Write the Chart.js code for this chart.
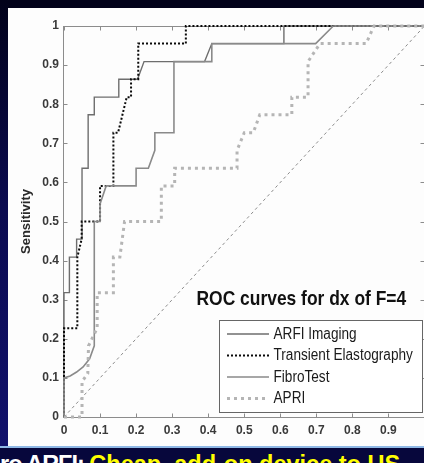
<!DOCTYPE html>
<html><head><meta charset="utf-8">
<script src="https://cdn.jsdelivr.net/npm/chart.js@4.4.1/dist/chart.umd.min.js"></script>
<style>
html,body{margin:0;padding:0;width:424px;height:463px;overflow:hidden;background:#02021a;}
#leftbar{position:absolute;left:0;top:0;width:8px;height:463px;background:linear-gradient(#02021a,#0b0b50 45%,#12126e);}
#white{position:absolute;left:8px;top:8px;width:416px;height:438px;background:#fdfdfd;}
#wrap{position:absolute;left:0;top:0;width:440px;height:446px;}
#banner{position:absolute;left:0;top:446px;width:424px;height:15px;background:#07073c;border-top:2px solid #8fb8e6;overflow:hidden;white-space:nowrap;font-family:"Liberation Sans",Arial,sans-serif;font-weight:bold;font-size:23.5px;line-height:24px;}
#banner span.w{color:#ffffff;letter-spacing:-1px;}
#banner span.y{color:#ffff00;}
#btxt{position:relative;top:4px;left:0px;}
</style></head>
<body>
<div id="leftbar"></div>
<div id="white"></div>
<div id="wrap"><canvas id="c" width="440" height="446"></canvas></div>
<div id="banner"><div id="btxt"><span class="w">ro ARFI: </span><span class="y">Cheap, add-on device to US</span></div></div>
<script>
// ---- data (1 - specificity, sensitivity) ----
const arfiFpr = [0, 0, 0.015, 0.015, 0.035, 0.035, 0.05, 0.05, 0.067, 0.067, 0.084, 0.084, 0.152, 0.152, 0.204, 0.222, 0.39, 0.41, 0.61, 0.61, 1];
const arfiTpr = [0, 0.318, 0.318, 0.409, 0.409, 0.455, 0.455, 0.636, 0.636, 0.773, 0.773, 0.818, 0.818, 0.864, 0.864, 0.909, 0.909, 0.955, 0.955, 1, 1];

const teFpr = [0, 0, 0.037, 0.037, 0.049, 0.049, 0.1, 0.1, 0.137, 0.137, 0.15, 0.174, 0.186, 0.186, 0.206, 0.206, 0.338, 0.338, 1];
const teTpr = [0, 0.227, 0.227, 0.409, 0.455, 0.5, 0.5, 0.591, 0.591, 0.727, 0.727, 0.818, 0.818, 0.864, 0.864, 0.955, 0.955, 1, 1];

const fibroFpr = [0, 0, 0.017, 0.035, 0.053, 0.071, 0.084, 0.084, 0.1, 0.1, 0.117, 0.2, 0.2, 0.234, 0.252, 0.252, 0.305, 0.305, 0.41, 0.41, 0.698, 0.747, 1];
const fibroTpr = [0, 0.1, 0.105, 0.115, 0.128, 0.149, 0.182, 0.5, 0.5, 0.545, 0.591, 0.591, 0.636, 0.636, 0.682, 0.727, 0.727, 0.909, 0.909, 0.955, 0.955, 1, 1];

const apriFpr = [0, 0.05, 0.05, 0.066, 0.068, 0.092, 0.092, 0.137, 0.137, 0.155, 0.168, 0.27, 0.27, 0.307, 0.307, 0.48, 0.48, 0.5, 0.525, 0.543, 0.632, 0.632, 0.677, 0.677, 0.71, 0.838, 0.86, 1];
const apriTpr = [0, 0, 0.091, 0.111, 0.182, 0.227, 0.318, 0.318, 0.409, 0.409, 0.5, 0.5, 0.591, 0.591, 0.636, 0.636, 0.682, 0.727, 0.727, 0.773, 0.773, 0.818, 0.818, 0.909, 0.955, 0.955, 1, 1];

const refFpr = [0, 1];
const refTpr = [0, 1];

const seriesNames = ['ARFI Imaging', 'Transient Elastography', 'FibroTest', 'APRI'];
const xTickLabels = ['0', '0.1', '0.2', '0.3', '0.4', '0.5', '0.6', '0.7', '0.8', '0.9', ''];
const yTickLabels = ['0', '0.1', '0.2', '0.3', '0.4', '0.5', '0.6', '0.7', '0.8', '0.9', '1'];
const yAxisTitle = 'Sensitivity';
const chartTitle = 'ROC curves for dx of F=4';

const pts = (xs, ys) => xs.map((v, i) => ({x: v, y: ys[i]}));
const SANS = '"Liberation Sans", Arial, sans-serif';

const decor = {
  id: 'decor',
  beforeDatasetsDraw(chart) {
    const {ctx, chartArea: a, scales: {x, y}} = chart;
    ctx.save();
    ctx.strokeStyle = '#8c8c8c';
    ctx.lineWidth = 1;
    const L = Math.round(a.left) - 0.5, R = Math.round(a.right) - 0.5;
    const T = Math.round(a.top) + 0.5, B = Math.round(a.bottom) + 0.5;
    ctx.strokeRect(L, T, R - L, B - T);
    ctx.beginPath();
    x.ticks.forEach(t => {
      const p = Math.round(x.getPixelForValue(t.value)) + 0.5;
      ctx.moveTo(p, B); ctx.lineTo(p, B - 4);
      ctx.moveTo(p, T); ctx.lineTo(p, T + 4);
    });
    y.ticks.forEach(t => {
      const p = Math.round(y.getPixelForValue(t.value)) + 0.5;
      ctx.moveTo(L, p); ctx.lineTo(L + 4, p);
      ctx.moveTo(R, p); ctx.lineTo(R - 4, p);
    });
    ctx.stroke();
    ctx.restore();
  },
  afterDatasetsDraw(chart) {
    const {ctx} = chart;
    ctx.save();
    // title text inside plot (narrow look via horizontal scaling)
    ctx.save();
    ctx.fillStyle = '#111';
    ctx.font = 'bold 21px ' + SANS;
    ctx.textBaseline = 'alphabetic';
    ctx.textAlign = 'left';
    ctx.translate(196.5, 305);
    ctx.scale(0.83, 1);
    ctx.fillText(chartTitle, 0, 0);
    ctx.restore();
    // legend box
    ctx.fillStyle = '#ffffff';
    ctx.fillRect(219.5, 320.5, 203, 92);
    ctx.strokeStyle = '#666';
    ctx.lineWidth = 1;
    ctx.strokeRect(219.5, 320.5, 203, 92);
    const items = chart.data.datasets.filter(d => d.legend);
    items.sort((p, q) => p.legendIndex - q.legendIndex);
    items.forEach((d, i) => {
      const yy = 334 + i * 21.5;
      ctx.save();
      ctx.strokeStyle = d.borderColor;
      ctx.lineWidth = d.borderWidth;
      ctx.setLineDash(d.borderDash || []);
      ctx.beginPath();
      ctx.moveTo(227, yy); ctx.lineTo(269, yy);
      ctx.stroke();
      ctx.restore();
      ctx.save();
      ctx.fillStyle = '#1a1a1a';
      ctx.font = '16px ' + SANS;
      ctx.textBaseline = 'middle';
      ctx.translate(273.5, yy + 0.5);
      ctx.scale(0.85, 1);
      ctx.fillText(d.label, 0, 0);
      ctx.restore();
    });
    ctx.restore();
  }
};

const common = {showLine: true, pointRadius: 0, pointHoverRadius: 0, tension: 0, fill: false, clip: false};

new Chart(document.getElementById('c'), {
  type: 'scatter',
  data: {
    datasets: [
      Object.assign({label: seriesNames[3], legend: true, legendIndex: 3, order: 1, data: pts(apriFpr, apriTpr),
        borderColor: '#b5b5b5', borderWidth: 3, borderDash: [3, 4], borderCapStyle: 'butt'}, common),
      Object.assign({label: seriesNames[2], legend: true, legendIndex: 2, order: 2, data: pts(fibroFpr, fibroTpr),
        borderColor: '#8a8a8a', borderWidth: 1.6}, common),
      Object.assign({label: seriesNames[1], legend: true, legendIndex: 1, order: 3, data: pts(teFpr, teTpr),
        borderColor: '#0a0a0a', borderWidth: 2, borderDash: [2, 2]}, common),
      Object.assign({label: seriesNames[0], legend: true, legendIndex: 0, order: 4, data: pts(arfiFpr, arfiTpr),
        borderColor: '#6e6e6e', borderWidth: 1.4}, common),
      Object.assign({label: '', legend: false, order: 5, data: pts(refFpr, refTpr),
        borderColor: '#8c8c8c', borderWidth: 1, borderDash: [3, 3]}, common)
    ]
  },
  options: {
    responsive: false,
    animation: false,
    devicePixelRatio: 1,
    layout: {padding: {left: 0, top: 26, right: 15.5, bottom: 0}},
    plugins: {legend: {display: false}, tooltip: {enabled: false}, title: {display: false}},
    scales: {
      x: {
        type: 'linear', min: 0, max: 1,
        grid: {display: false, drawTicks: false},
        border: {display: false},
        ticks: {stepSize: 0.1, padding: 6, color: '#3a3a3a', font: {family: SANS, size: 12, weight: 'bold'},
          maxRotation: 0, autoSkip: false, callback: (v, i) => xTickLabels[i]},
        afterFit: s => { s.height = 29; }
      },
      y: {
        type: 'linear', min: 0, max: 1,
        grid: {display: false, drawTicks: false},
        border: {display: false},
        ticks: {stepSize: 0.1, padding: 5, color: '#3a3a3a', font: {family: SANS, size: 12, weight: 'bold'},
          autoSkip: false, callback: (v, i) => yTickLabels[i]},
        title: {display: true, text: yAxisTitle, color: '#2a2a2a', padding: {top: 19, bottom: 0},
          font: {family: SANS, size: 13, weight: 'bold'}},
        afterFit: s => { s.width = 64; }
      }
    }
  },
  plugins: [decor]
});
</script>
</body></html>
